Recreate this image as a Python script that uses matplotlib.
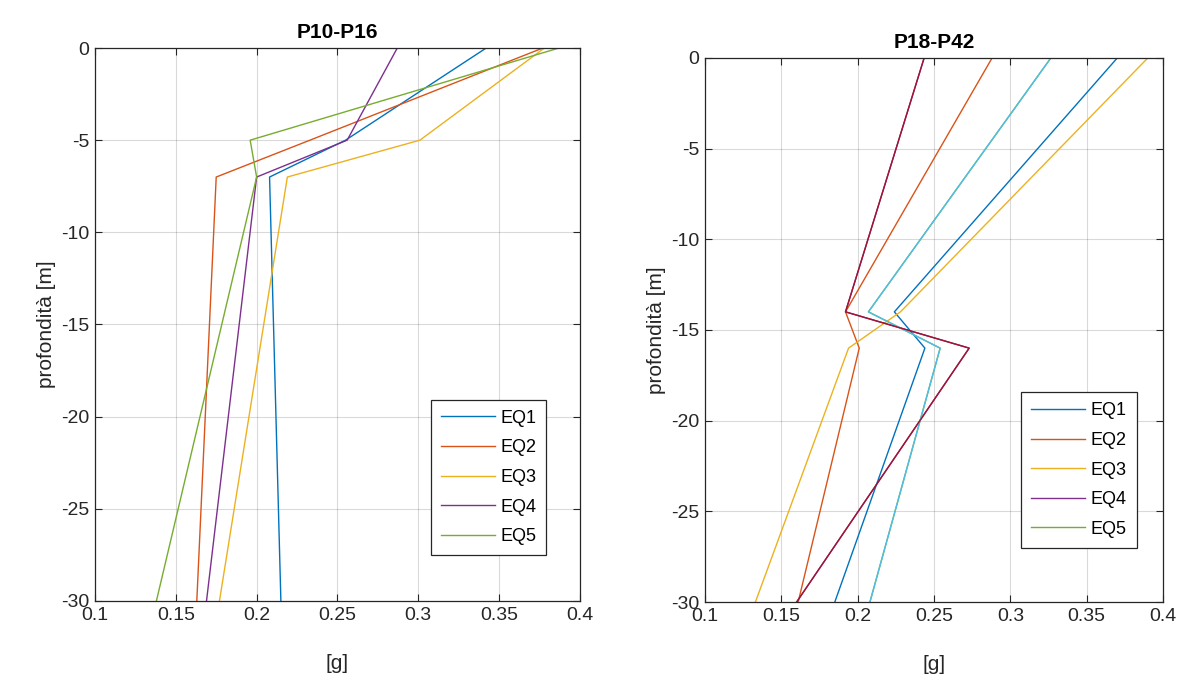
import matplotlib
matplotlib.use("Agg")
import matplotlib.pyplot as plt
import numpy as np

plt.rcParams["font.family"] = ["Liberation Sans", "DejaVu Sans"]
plt.rcParams["axes.unicode_minus"] = False

# ── data ──────────────────────────────────────────────────────────────────────
labels = ["EQ1", "EQ2", "EQ3", "EQ4", "EQ5"]

# P10-P16
depth_left = [0, -5, -7, -30]
left_eq1 = [0.342, 0.255, 0.208, 0.215]
left_eq2 = [0.377, 0.233, 0.175, 0.163]
left_eq3 = [0.378, 0.301, 0.219, 0.177]
left_eq4 = [0.287, 0.256, 0.200, 0.169]
left_eq5 = [0.387, 0.196, 0.200, 0.138]

# P18-P42
depth_right = [0, -14, -16, -30]
right_eq1 = [0.370, 0.224, 0.244, 0.185]
right_eq2 = [0.288, 0.192, 0.201, 0.161]
right_eq3 = [0.390, 0.228, 0.194, 0.133]
right_eq4 = [0.2435, 0.192, 0.273, 0.160]
right_eq5 = [0.3265, 0.207, 0.254, 0.208]

xticks = [0.1, 0.15, 0.2, 0.25, 0.3, 0.35, 0.4]
xticklabels = ["0.1", "0.15", "0.2", "0.25", "0.3", "0.35", "0.4"]
yticks = [0, -5, -10, -15, -20, -25, -30]

# MATLAB default colour order
COLORS = ["#0072BD", "#D95319", "#EDB120", "#7E2F8E", "#77AC30", "#4DBEEE", "#A2142F"]
INK = "#262626"


def style_axes(ax, title):
    ax.set_xlim(0.1, 0.4)
    ax.set_ylim(-30, 0)
    ax.set_xticks(xticks)
    ax.set_xticklabels(xticklabels)
    ax.set_yticks(yticks)
    ax.grid(True, color="#000000", alpha=0.15, linewidth=0.8)
    ax.set_axisbelow(True)
    ax.tick_params(direction="in", length=5, width=0.8, colors=INK,
                   labelsize=14, top=True, right=True, pad=4)
    for sp in ax.spines.values():
        sp.set_color(INK)
        sp.set_linewidth(0.9)
    ax.set_xlabel("[g]", fontsize=15, color=INK, labelpad=22)
    ax.set_ylabel("profondità [m]", fontsize=15, color=INK, labelpad=4)
    ax.set_title(title, fontsize=15, fontweight="bold", color="#000000", pad=7)


def add_legend(ax, anchor):
    leg = ax.legend(loc="lower right", bbox_to_anchor=anchor,
                    fontsize=13, handlelength=3.0, handletextpad=0.3,
                    labelspacing=0.7, borderpad=0.55, fancybox=False,
                    framealpha=1, edgecolor=INK, borderaxespad=0)
    leg.get_frame().set_linewidth(0.9)
    return leg


fig = plt.figure(figsize=(11.81, 6.79), dpi=100)
ax1 = fig.add_axes([0.0804, 0.1149, 0.4107, 0.8144])
ax2 = fig.add_axes([0.5970, 0.1134, 0.3878, 0.8012])

left_series = [left_eq1, left_eq2, left_eq3, left_eq4, left_eq5]
for vals, lab, col in zip(left_series, labels, COLORS):
    ax1.plot(vals, depth_left, color=col, lw=1.0, label=lab)
style_axes(ax1, "P10-P16")
add_legend(ax1, (0.93, 0.083))

right_series = [right_eq1, right_eq2, right_eq3, right_eq4, right_eq5]
for vals, lab, col in zip(right_series, labels, COLORS):
    ax2.plot(vals, depth_right, color=col, lw=1.0, label=lab)
# two further curves drawn on top (colours 6 and 7 of the order)
ax2.plot(right_eq5, depth_right, color=COLORS[5], lw=1.0)
ax2.plot(right_eq4, depth_right, color=COLORS[6], lw=1.0)
style_axes(ax2, "P18-P42")
add_legend(ax2, (0.9426, 0.0998))

fig.savefig("out.png", dpi=100)
